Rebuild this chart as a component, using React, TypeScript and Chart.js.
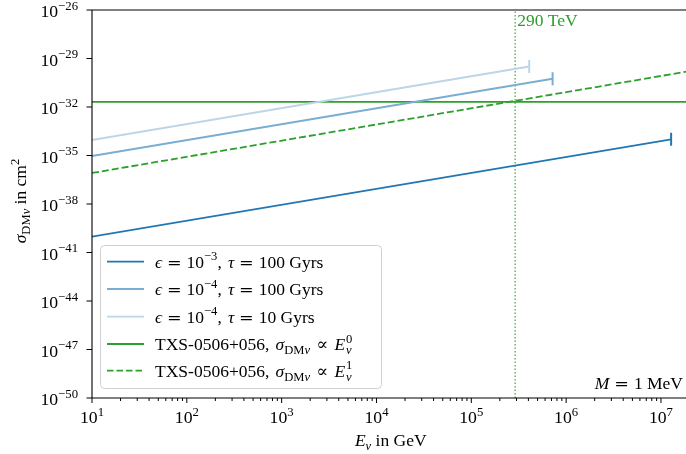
import React, { useEffect, useRef } from 'react';
import { Chart, registerables } from 'chart.js';
Chart.register(...registerables);

// ---- data ----
const X_MIN = 10;
const X_MAX = 2e7;
const Y_MIN = 1e-50;
const Y_MAX = 1e-26;

const darkX = [10, 1.28e7];
const darkY = [9.5e-41, 1.0e-34];
const midX = [10, 7.2e5];
const midY = [9.3e-36, 5.6e-31];
const lightX = [10, 4.08e5];
const lightY = [9.1e-35, 3.2e-30];
const txsFlatX = [10, 2e7];
const txsFlatY = [2.1e-32, 2.1e-32];
const txsLinX = [10, 2e7];
const txsLinY = [8.3e-37, 1.66e-30];
const vlineX = [2.9e5, 2.9e5];
const vlineY = [1e-50, 1e-26];

const xMajorExp = [1, 2, 3, 4, 5, 6, 7];
const yMajorExp = [-26, -29, -32, -35, -38, -41, -44, -47, -50];

const C_DARK = '#1f77b4';
const C_MID = 'rgb(121,173,210)';
const C_LIGHT = 'rgb(188,214,232)';
const C_GREEN = '#2ca02c';

type Seg = { t?: string; it?: boolean; k?: 'sup' | 'sub'; stay?: boolean; sp?: number; df?: boolean };

const FAM = '"Liberation Serif", "DejaVu Serif", serif';
const FAM2 = '"DejaVu Serif", serif';

function segFont(s: Seg, size: number) {
  const sz = s.k ? size * 0.72 : size;
  return `${s.it ? 'italic ' : ''}${sz}px ${s.df ? FAM2 : FAM}`;
}
function segW(ctx: CanvasRenderingContext2D, s: Seg, size: number) {
  if (s.sp !== undefined) return s.sp * size;
  ctx.font = segFont(s, size);
  return s.stay ? 0 : ctx.measureText(s.t || '').width;
}
function richWidth(ctx: CanvasRenderingContext2D, segs: Seg[], size: number) {
  let w = 0;
  for (const s of segs) w += segW(ctx, s, size);
  return w;
}
function drawRich(ctx: CanvasRenderingContext2D, segs: Seg[], x: number, y: number, size: number) {
  let cx = x;
  ctx.textAlign = 'left';
  ctx.textBaseline = 'alphabetic';
  for (const s of segs) {
    if (s.sp === undefined) {
      ctx.font = segFont(s, size);
      const dy = s.k === 'sup' ? -size * 0.42 : s.k === 'sub' ? size * 0.22 : 0;
      ctx.fillText(s.t || '', cx, y + dy);
    }
    cx += segW(ctx, s, size);
  }
}

const EQ: Seg[] = [{ sp: 0.28 }, { t: '=', df: true }, { sp: 0.28 }];
const PROP: Seg[] = [{ sp: 0.36 }, { t: '∝', df: true }, { sp: 0.36 }];

const legendItems: { color: string; dash: number[]; segs: Seg[] }[] = [
  { color: C_DARK, dash: [], segs: [{ t: 'ϵ', it: true }, ...EQ, { t: '10' }, { t: '−3', k: 'sup' }, { t: ',' }, { sp: 0.35 }, { t: 'τ', it: true }, ...EQ, { t: '100 Gyrs' }] },
  { color: C_MID, dash: [], segs: [{ t: 'ϵ', it: true }, ...EQ, { t: '10' }, { t: '−4', k: 'sup' }, { t: ',' }, { sp: 0.35 }, { t: 'τ', it: true }, ...EQ, { t: '100 Gyrs' }] },
  { color: C_LIGHT, dash: [], segs: [{ t: 'ϵ', it: true }, ...EQ, { t: '10' }, { t: '−4', k: 'sup' }, { t: ',' }, { sp: 0.35 }, { t: 'τ', it: true }, ...EQ, { t: '10 Gyrs' }] },
  { color: C_GREEN, dash: [], segs: [{ t: 'TXS-0506+056,' }, { sp: 0.35 }, { t: 'σ', it: true }, { t: 'DM', k: 'sub' }, { t: 'ν', it: true, k: 'sub' }, ...PROP, { t: 'E', it: true }, { sp: 0.05 }, { t: '0', k: 'sup', stay: true }, { t: 'ν', it: true, k: 'sub' }] },
  { color: C_GREEN, dash: [6.5, 3], segs: [{ t: 'TXS-0506+056,' }, { sp: 0.35 }, { t: 'σ', it: true }, { t: 'DM', k: 'sub' }, { t: 'ν', it: true, k: 'sub' }, ...PROP, { t: 'E', it: true }, { sp: 0.05 }, { t: '1', k: 'sup', stay: true }, { t: 'ν', it: true, k: 'sub' }] },
];

const FS = 17.5;

const overlay = {
  id: 'overlay',
  afterDraw(chart: any) {
    const ctx: CanvasRenderingContext2D = chart.ctx;
    const { left, right, top, bottom } = chart.chartArea;
    const xs = chart.scales.x;
    const ys = chart.scales.y;
    ctx.save();
    ctx.fillStyle = '#000';
    ctx.strokeStyle = '#000';
    ctx.lineWidth = 1.1;
    ctx.setLineDash([]);
    // spines
    ctx.beginPath();
    ctx.moveTo(left, top); ctx.lineTo(right, top);
    ctx.moveTo(left, top); ctx.lineTo(left, bottom);
    ctx.moveTo(left, bottom); ctx.lineTo(right, bottom);
    ctx.moveTo(right, top); ctx.lineTo(right, bottom);
    ctx.stroke();
    // ticks
    ctx.lineWidth = 1;
    ctx.beginPath();
    for (let e = 1; e <= 7; e++) {
      for (let m = 1; m <= 9; m++) {
        const v = m * Math.pow(10, e);
        if (v > X_MAX) continue;
        const px = xs.getPixelForValue(v);
        ctx.moveTo(px, bottom);
        ctx.lineTo(px, bottom + (m === 1 ? 5 : 3));
      }
    }
    for (const e of yMajorExp) {
      const py = ys.getPixelForValue(Math.pow(10, e));
      ctx.moveTo(left, py);
      ctx.lineTo(left - 5.5, py);
    }
    ctx.stroke();
    // tick labels
    const TS = 17.7;
    for (const e of xMajorExp) {
      const px = xs.getPixelForValue(Math.pow(10, e));
      const segs: Seg[] = [{ t: '10' }, { t: String(e), k: 'sup' }];
      const w = richWidth(ctx, segs, TS);
      drawRich(ctx, segs, px - w / 2, 423, TS);
    }
    for (const e of yMajorExp) {
      const py = ys.getPixelForValue(Math.pow(10, e));
      const segs: Seg[] = [{ t: '10' }, { t: '−' + String(-e), k: 'sup' }];
      const w = richWidth(ctx, segs, TS);
      drawRich(ctx, segs, 78 - w, py + 7, TS);
    }
    // axis labels
    const xl: Seg[] = [{ t: 'E', it: true }, { t: 'ν', it: true, k: 'sub' }, { t: ' in GeV' }];
    const xw = richWidth(ctx, xl, FS);
    drawRich(ctx, xl, (left + right) / 2 - xw / 2, 446, FS);
    const yl: Seg[] = [{ t: 'σ', it: true }, { t: 'DM', k: 'sub' }, { t: 'ν', it: true, k: 'sub' }, { t: ' in cm' }, { t: '2', k: 'sup' }];
    const yw = richWidth(ctx, yl, FS);
    ctx.save();
    ctx.translate(26, 201);
    ctx.rotate(-Math.PI / 2);
    drawRich(ctx, yl, -yw / 2, 0, FS);
    ctx.restore();
    // annotations
    ctx.fillStyle = C_GREEN;
    drawRich(ctx, [{ t: '290 TeV' }], xs.getPixelForValue(2.9e5) + 2, 26, FS);
    ctx.fillStyle = '#000';
    const ml: Seg[] = [{ t: 'M', it: true }, ...EQ, { t: '1 MeV' }];
    const mw = richWidth(ctx, ml, FS);
    drawRich(ctx, ml, 683 - mw, 389, FS);
    // legend
    const bx = 100.5, by = 245.5, bw = 281, bh = 143, r = 4;
    ctx.beginPath();
    ctx.moveTo(bx + r, by);
    ctx.arcTo(bx + bw, by, bx + bw, by + bh, r);
    ctx.arcTo(bx + bw, by + bh, bx, by + bh, r);
    ctx.arcTo(bx, by + bh, bx, by, r);
    ctx.arcTo(bx, by, bx + bw, by, r);
    ctx.closePath();
    ctx.fillStyle = 'rgba(255,255,255,0.8)';
    ctx.fill();
    ctx.strokeStyle = '#d0d0d0';
    ctx.lineWidth = 1;
    ctx.stroke();
    const rowY = [261.7, 289, 316.7, 344, 370.7];
    legendItems.forEach((it, i) => {
      const cy = rowY[i];
      ctx.strokeStyle = it.color;
      ctx.lineWidth = 1.8;
      ctx.setLineDash(it.dash);
      ctx.beginPath();
      ctx.moveTo(107, cy);
      ctx.lineTo(144, cy);
      ctx.stroke();
      ctx.setLineDash([]);
      ctx.fillStyle = '#000';
      drawRich(ctx, it.segs, 155, cy + 6, FS);
    });
    ctx.restore();
  },
};

function pts(xs: number[], ys: number[]) {
  return xs.map((x, i) => ({ x, y: ys[i] }));
}

export default function App() {
  const ref = useRef<HTMLCanvasElement | null>(null);
  useEffect(() => {
    document.body.style.margin = '0';
    const canvas = ref.current!;
    const capLine = (color: string, data: any[]) => ({
      data,
      borderColor: color,
      backgroundColor: color,
      borderWidth: 1.8,
      pointStyle: 'line',
      rotation: 90,
      pointRadius: [0, 6.5],
      pointBorderWidth: 2,
      pointBorderColor: color,
    });
    const chart = new Chart(canvas, {
      type: 'line',
      data: {
        datasets: [
          capLine(C_DARK, pts(darkX, darkY)),
          capLine(C_MID, pts(midX, midY)),
          capLine(C_LIGHT, pts(lightX, lightY)),
          { data: pts(txsFlatX, txsFlatY), borderColor: C_GREEN, borderWidth: 1.8, pointRadius: 0 },
          { data: pts(txsLinX, txsLinY), borderColor: C_GREEN, borderWidth: 1.8, borderDash: [7, 3], pointRadius: 0 },
          { data: pts(vlineX, vlineY), borderColor: 'rgba(44,160,44,0.85)', borderWidth: 1.3, borderDash: [1.5, 2], pointRadius: 0 },
        ] as any,
      },
      options: {
        animation: false,
        responsive: false,
        devicePixelRatio: 1,
        layout: { padding: { left: 92, right: 2.5, top: 10, bottom: 56 } },
        plugins: { legend: { display: false }, tooltip: { enabled: false } },
        scales: {
          x: { type: 'logarithmic', min: X_MIN, max: X_MAX, display: false },
          y: { type: 'logarithmic', min: Y_MIN, max: Y_MAX, display: false },
        },
      },
      plugins: [overlay],
    });
    return () => chart.destroy();
  }, []);
  return (
    <div style={{ position: 'absolute', left: 0, top: 0, width: 686, height: 454, overflow: 'hidden', background: '#fff' }}>
      <canvas ref={ref} width={698} height={454} style={{ display: 'block' }} />
    </div>
  );
}
